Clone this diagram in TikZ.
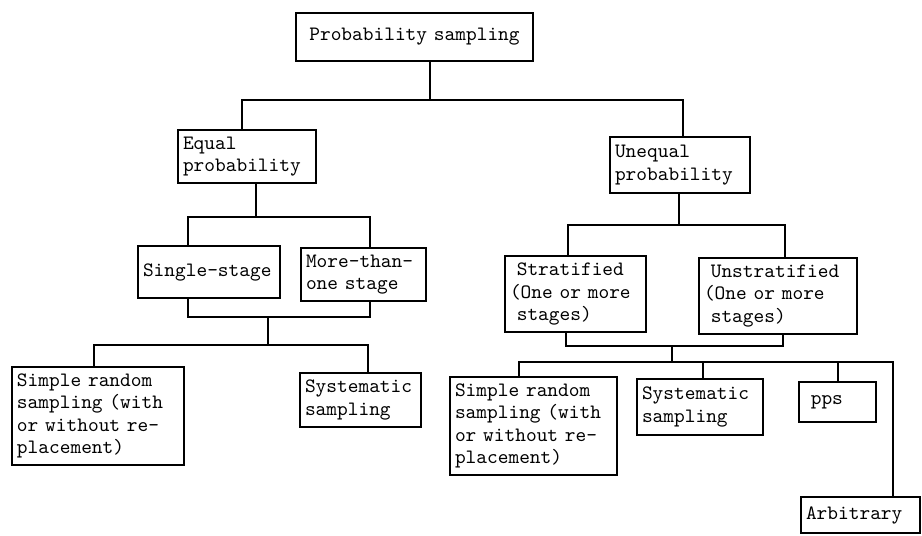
\documentclass[tikz,border=0pt]{standalone}
\usetikzlibrary{positioning}

\begin{document}
\begin{tikzpicture}[
  x=0.5pt, y=-0.5pt,
  box/.style={rectangle, draw, line width=1.2pt, inner xsep=2.5pt, inner ysep=2pt, align=left,
    font=\ttfamily\fontsize{10.2}{11.2}\selectfont},
  link/.style={line width=1pt}
]
\useasboundingbox (0,0) rectangle (922,536);

% Nodes
\node[box, align=center, text width=113.5pt, minimum height=24pt] (root) at (414.5,37) {Probability sampling};
\node[box, text width=64pt, minimum height=26.5pt] (equal) at (247,156.5) {Equal\\probability};
\node[box, text width=65pt, minimum height=28pt] (unequal) at (680,165) {Unequal\\probability};
\node[box, text width=66pt, minimum height=26pt] (single) at (209,272) {Single-stage};
\node[box, text width=57.5pt, minimum height=26.5pt] (multi) at (363.5,274.5) {More-than-\\one stage};
\node[box, text width=65.5pt, minimum height=38pt] (strat) at (575.5,294) {\ Stratified\\(One or more\\\ stages)};
\node[box, text width=74pt, minimum height=38pt] (unstrat) at (778,296) {\ Unstratified\\(One or more\\\ stages)};
\node[box, text width=81pt, minimum height=49pt] (srsA) at (98,416) {Simple random\\sampling (with\\or without re-\\placement)};
\node[box, text width=55.5pt, minimum height=27pt] (sysA) at (360.5,400) {Systematic\\sampling};
\node[box, text width=78.5pt, minimum height=49pt] (srsB) at (533.5,426) {Simple random\\sampling (with\\or without re-\\placement)};
\node[box, text width=58pt, minimum height=28pt] (sysB) at (700,407) {Systematic\\sampling};
\node[box, text width=33.5pt, minimum height=20pt] (pps) at (837.5,402) {\ pps};
\node[box, text width=54.5pt, minimum height=18pt] (arb) at (860.5,515) {Arbitrary};

% Root split
\coordinate (r) at (430,100);
\draw[link] (root.south -| r) -- (r);
\draw[link] (r) -| (equal.north -| 242,0);
\draw[link] (r) -| (unequal.north -| 683,0);

% Equal probability branch
\coordinate (e) at (256,217);
\draw[link] (equal.south -| e) -- (e);
\draw[link] (e) -| (single.north -| 188,0);
\draw[link] (e) -| (multi.north -| 370,0);
\coordinate (m) at (268,317);
\draw[link] (single.south -| 188,0) |- (m);
\draw[link] (multi.south -| 370,0) |- (m);
\coordinate (n) at (268,345);
\draw[link] (m) -- (n);
\draw[link] (n) -| (srsA.north -| 94,0);
\draw[link] (n) -| (sysA.north -| 368,0);

% Unequal probability branch
\coordinate (u) at (679,225);
\draw[link] (unequal.south -| u) -- (u);
\draw[link] (u) -| (strat.north -| 568,0);
\draw[link] (u) -| (unstrat.north -| 785,0);
\coordinate (s) at (672,346);
\draw[link] (strat.south -| 566,0) |- (s);
\draw[link] (unstrat.south -| 783,0) |- (s);
\coordinate (t) at (672,362);
\draw[link] (s) -- (t);
\draw[link] (t) -| (srsB.north -| 519,0);
\draw[link] (t) -| (sysB.north -| 703,0);
\draw[link] (t) -| (pps.north -| 838,0);
\draw[link] (t) -| (arb.north -| 893,0);

\end{tikzpicture}
\end{document}
